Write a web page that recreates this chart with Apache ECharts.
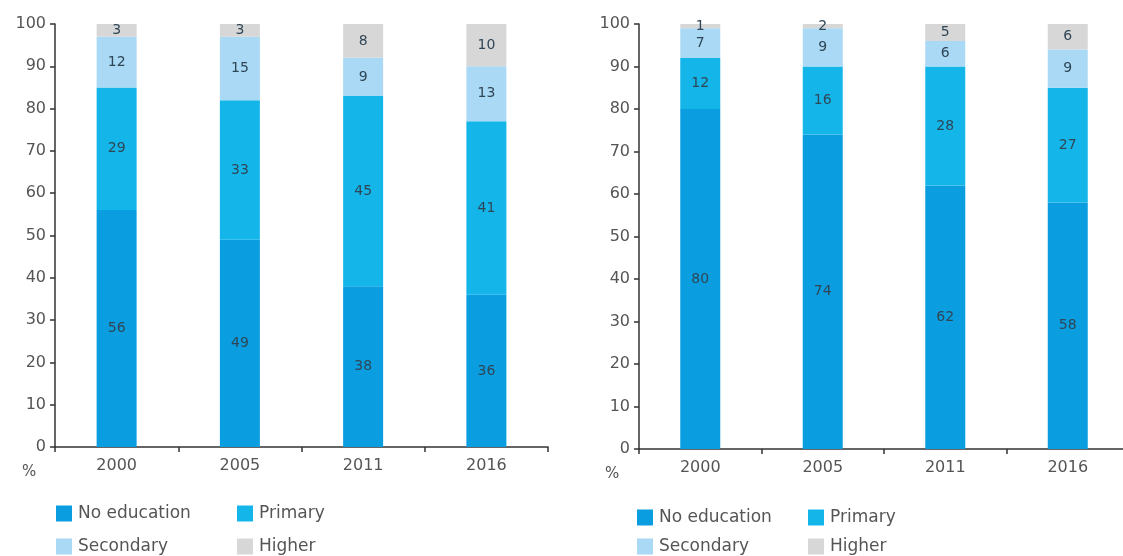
<!DOCTYPE html>
<html>
<head>
<meta charset="utf-8">
<script src="https://cdn.jsdelivr.net/npm/echarts@6/dist/echarts.min.js"></script>
<style>
  html, body { margin: 0; padding: 0; background: #fff; overflow: hidden; }
  #chart { width: 1123px; height: 556px; }
</style>
</head>
<body>
<div id="chart"></div>
<script>
// Survey years shown on both panels
const years = ['2000', '2005', '2011', '2016'];

// Left panel: share by education level (%)
const leftNoEducation = [56, 49, 38, 36];
const leftPrimary = [29, 33, 45, 41];
const leftSecondary = [12, 15, 9, 13];
const leftHigher = [3, 3, 8, 10];

// Right panel: share by education level (%)
const rightNoEducation = [80, 74, 62, 58];
const rightPrimary = [12, 16, 28, 27];
const rightSecondary = [7, 9, 6, 9];
const rightHigher = [1, 2, 5, 6];

const levels = ['No education', 'Primary', 'Secondary', 'Higher'];
const colors = ['#0a9ddf', '#14b6ea', '#a9d9f4', '#d7d7d7'];

const font = 'DejaVu Sans, Verdana, sans-serif';
const axisColor = '#333';
const textColor = '#555';

function xAxis(gridIndex) {
  return {
    type: 'category', gridIndex, data: years,
    axisLine: { lineStyle: { color: axisColor, width: 1.5 } },
    axisTick: { show: true, length: 5, lineStyle: { color: axisColor, width: 1.5 } },
    axisLabel: { color: textColor, fontSize: 16, fontFamily: font, margin: 11 }
  };
}
function yAxis(gridIndex) {
  return {
    type: 'value', gridIndex, min: 0, max: 100, interval: 10,
    axisLine: { show: true, lineStyle: { color: axisColor, width: 1.5 } },
    axisTick: { show: true, length: 5, lineStyle: { color: axisColor, width: 1.5 } },
    splitLine: { show: false },
    axisLabel: { color: textColor, fontSize: 16, fontFamily: font, margin: 9 }
  };
}
function stackSeries(idx, name, data, color) {
  return {
    type: 'bar', name, data,
    xAxisIndex: idx, yAxisIndex: idx,
    stack: 'panel' + idx, barWidth: 40,
    itemStyle: { color },
    label: {
      show: true, position: 'inside',
      color: '#2f4656', fontSize: 14, fontFamily: font
    }
  };
}

const leftData = [leftNoEducation, leftPrimary, leftSecondary, leftHigher];
const rightData = [rightNoEducation, rightPrimary, rightSecondary, rightHigher];

const series = [];
levels.forEach((name, i) => series.push(stackSeries(0, name, leftData[i], colors[i])));
levels.forEach((name, i) => series.push(stackSeries(1, name, rightData[i], colors[i])));

// One legend entry per block so the two-column layout lines up under each panel
const leftLegendPos = [
  { left: 56, top: 505 }, { left: 237, top: 505 },
  { left: 56, top: 538 }, { left: 237, top: 538 }
];
const rightLegendPos = [
  { left: 637, top: 509 }, { left: 808, top: 509 },
  { left: 637, top: 538 }, { left: 808, top: 538 }
];
const legends = [];
[leftLegendPos, rightLegendPos].forEach(posList => {
  levels.forEach((name, i) => {
    legends.push(Object.assign({
      data: [name], orient: 'horizontal',
      itemWidth: 16, itemHeight: 16, itemGap: 0,
      icon: 'rect',
      textStyle: { color: textColor, fontSize: 17, fontFamily: font, padding: [0, 0, 0, 1] },
      padding: 0
    }, posList[i]));
  });
});

const option = {
  animation: false,
  grid: [
    { left: 55, width: 493, top: 24, bottom: 109, outerBoundsMode: 'none' },
    // the right panel's axis runs past the page edge
    { left: 639, width: 490, top: 24, bottom: 107, outerBoundsMode: 'none' }
  ],
  xAxis: [xAxis(0), xAxis(1)],
  yAxis: [yAxis(0), yAxis(1)],
  legend: legends,
  series,
  graphic: [
    { type: 'text', left: 22, top: 465, style: { text: '%', fill: textColor, fontSize: 15, fontFamily: font } },
    { type: 'text', left: 605, top: 467, style: { text: '%', fill: textColor, fontSize: 15, fontFamily: font } }
  ]
};

const chart = echarts.init(document.getElementById('chart'));
chart.setOption(option);
</script>
</body>
</html>
